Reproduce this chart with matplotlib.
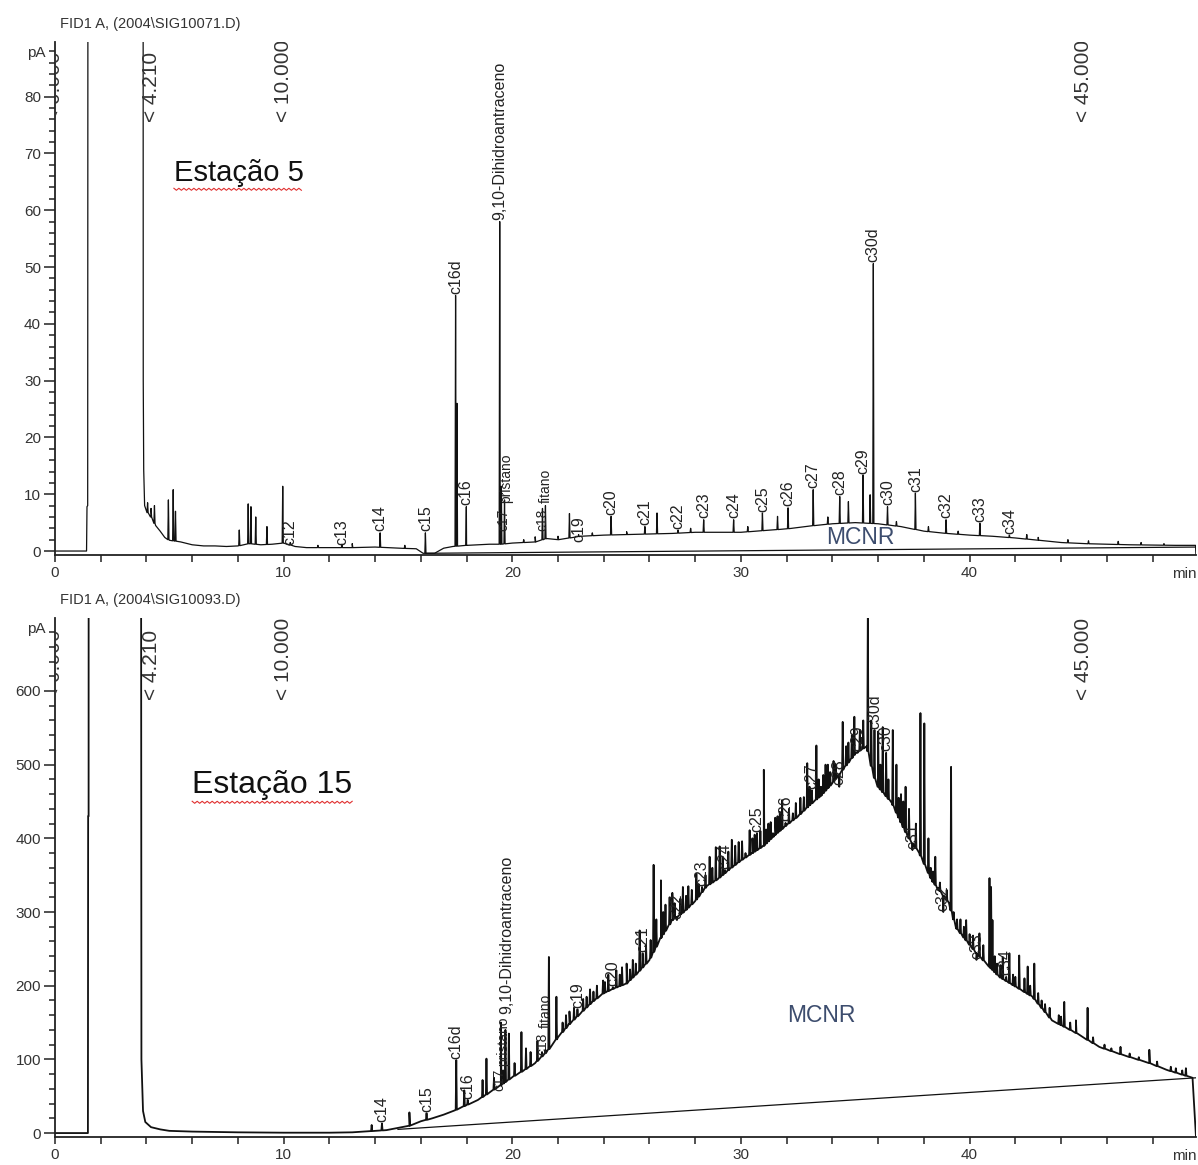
import numpy as np
import matplotlib
matplotlib.use("Agg")
import matplotlib.pyplot as plt
from matplotlib.lines import Line2D
from matplotlib.ticker import MultipleLocator

plt.rcParams["font.family"] = ["Liberation Sans", "DejaVu Sans"]

# ---------------- Estação 5 (top chromatogram) ----------------
top_file = "FID1 A, (2004\\SIG10071.D)"
top_env_x = [0.0, 1.38, 1.40, 1.43, 1.46, 3.84, 3.86, 3.88, 3.92, 4.0, 4.2, 4.4, 4.6,
             4.8, 5.0, 5.5, 6.0, 6.5, 7.0, 7.5, 8.0, 8.5, 9.0, 9.5, 10.0, 10.5, 11.0,
             12.0, 13.0, 14.0, 15.0, 15.8, 16.1, 16.6, 17.0, 17.4, 18.0, 19.0, 19.5,
             20.0, 21.0, 21.5, 22.0, 23.0, 24.0, 25.0, 26.0, 27.0, 28.0, 29.0, 30.0,
             31.0, 32.0, 33.0, 34.0, 35.0, 36.0, 37.0, 38.0, 39.0, 40.0, 41.0, 42.0,
             43.0, 44.0, 45.0, 46.0, 47.0, 48.0, 49.0, 49.88, 49.9]
top_env_y = [0.0, 0.0, 7.8, 8.0, 300, 300, 30, 14.3, 8.0, 7.0, 6.0, 4.5, 3.5,
             2.4, 1.9, 1.6, 1.1, 0.9, 0.9, 0.8, 0.9, 1.3, 1.1, 1.2, 1.4, 0.8, 0.6,
             0.6, 0.6, 0.7, 0.5, 0.4, -0.4, -0.4, 0.5, 0.8, 1.0, 1.2, 1.2,
             1.4, 1.6, 2.2, 2.0, 2.6, 2.8, 2.9, 3.0, 3.1, 3.3, 3.3, 3.3,
             3.6, 3.9, 4.4, 4.8, 5.0, 4.8, 4.3, 3.5, 3.1, 2.8, 2.6, 2.3,
             1.9, 1.5, 1.3, 1.2, 1.1, 1.05, 1.0, 1.0, -0.7]
top_peak_x = [4.05, 4.2, 4.35, 4.96, 5.17, 5.27, 8.06, 8.45, 8.57, 8.78, 9.27, 9.96,
              10.29, 11.5, 12.55, 13.0, 14.22, 15.3, 16.2, 17.52, 17.58, 17.99,
              19.45, 19.52, 19.66, 20.5, 21.0, 21.32, 21.45, 22.0, 22.5, 22.9,
              23.5, 24.32, 25.0, 25.8, 26.33, 27.25, 27.8, 28.37, 29.68, 30.3,
              30.94, 31.6, 32.06, 33.16, 33.8, 34.32, 34.7, 35.34, 35.65, 35.79,
              36.41, 36.8, 37.63, 38.2, 38.97, 39.5, 40.45, 41.74, 42.5, 43.0,
              44.3, 45.2, 46.5, 47.5, 48.5]
top_peak_y = [8.5, 7.5, 8.0, 9.0, 10.8, 7.0, 3.7, 8.3, 7.8, 6.0, 4.3, 11.4,
              1.5, 1.0, 1.2, 1.3, 3.2, 1.0, 3.2, 45.0, 26.0, 7.8,
              58.0, 11.4, 9.0, 2.0, 2.5, 7.5, 8.0, 2.6, 6.6, 2.9,
              3.2, 6.1, 3.4, 4.3, 6.7, 3.7, 4.0, 5.5, 5.5, 4.3,
              6.7, 6.1, 7.6, 10.8, 6.0, 9.6, 8.7, 13.4, 9.9, 50.6,
              7.8, 5.2, 10.2, 4.3, 5.5, 3.5, 4.9, 2.8, 2.9, 2.4,
              2.0, 1.8, 1.7, 1.5, 1.3]
top_lab_name = ["c12", "c13", "c14", "c15", "c16d", "c16", "9,10-Dihidroantraceno",
                "c17", "pristano", "c18", "fitano", "c19", "c20", "c21", "c22", "c23",
                "c24", "c25", "c26", "c27", "c28", "c29", "c30d", "c30", "c31", "c32",
                "c33", "c34"]
top_lab_x = [10.29, 12.55, 14.22, 16.2, 17.52, 17.99, 19.45, 19.62, 19.72, 21.3, 21.47,
             22.9, 24.32, 25.8, 27.25, 28.37, 29.68, 30.94, 32.06, 33.16, 34.32, 35.34,
             35.79, 36.41, 37.63, 38.97, 40.45, 41.74]
top_lab_y = [0.8, 0.8, 3.2, 3.2, 45.0, 7.8, 58.0, 3.2, 8.2, 3.2, 8.2,
             1.4, 6.1, 4.3, 3.7, 5.5, 5.5, 6.7, 7.6, 10.8, 9.6, 13.4,
             50.6, 7.8, 10.2, 5.5, 4.9, 2.8]
top_lab_size = [11.5] * 7 + [10, 10, 10, 10] + [11.5] * 17
top_mcnr_x = [16.2, 49.9]
top_mcnr_y = [-0.4, 0.7]

# ---------------- Estação 15 (bottom chromatogram) ----------------
bot_file = "FID1 A, (2004\\SIG10093.D)"
bot_env_x = [0.0, 1.44, 1.45, 1.47, 1.48, 3.74, 3.78, 3.85, 3.95, 4.2, 4.6, 5.0, 6.0,
             7.0, 8.0, 10.0, 12.0, 13.0, 14.0, 14.5, 15.0, 15.5, 16.0, 16.5, 17.0,
             17.5, 18.0, 18.5, 19.0, 19.5, 20.0, 20.5, 21.0, 21.5, 22.0, 22.5, 23.0,
             23.5, 24.0, 24.5, 25.0, 25.5, 26.0, 26.5, 27.0, 27.5, 28.0, 28.5, 29.0,
             29.5, 30.0, 30.5, 31.0, 31.5, 32.0, 32.5, 33.0, 33.5, 34.0, 34.5, 35.0,
             35.5, 35.8, 36.0, 36.6, 37.3, 37.8, 38.35, 39.1, 39.4, 40.3, 41.3, 42.75,
             43.6, 44.65, 45.67, 46.5, 47.86, 48.6, 49.75, 49.9]
bot_env_y = [0.0, 0.0, 430, 430, 2000, 2000, 100, 30, 15, 8, 5, 3, 2,
             1.5, 1.0, 0.5, 0.5, 1.0, 3.0, 4.0, 7.0, 10, 16, 20, 25,
             31, 38, 45, 55, 65, 76, 85, 95, 110, 130, 148, 163,
             178, 190, 197, 203, 218, 235, 265, 289, 300, 315, 335, 345,
             358, 370, 380, 390, 405, 418, 430, 445, 458, 475, 495, 515,
             525, 485, 470, 448, 402, 380, 343, 312, 279, 244, 212, 185,
             153, 136, 117, 108, 95, 86, 75, -5]
bot_peak_x = [13.85, 14.3, 15.5, 16.25, 17.55, 17.9, 18.05, 18.7, 18.87, 19.2, 19.5,
              19.6, 19.7, 19.85, 20.1, 20.4, 20.6, 20.8, 21.1, 21.3, 21.45, 21.6,
              21.93, 22.2, 22.5, 22.85, 23.1, 23.4, 23.7, 23.97, 24.2, 24.4, 24.55,
              24.8, 25.0, 25.27, 25.57, 25.7, 25.85, 26.18, 26.5, 26.7, 26.88, 27.0,
              27.2, 27.46, 27.7, 28.05, 28.3, 28.63, 28.9, 29.07, 29.3, 29.6, 29.9,
              30.2, 30.38, 30.6, 30.7, 31.0, 31.2, 31.4, 31.6, 31.8, 31.95, 32.27,
              32.6, 32.9, 33.1, 33.3, 33.5, 33.7, 33.9, 34.15, 34.3, 34.45, 34.7,
              34.96, 35.1, 35.2, 35.35, 35.55, 35.7, 35.84, 36.0, 36.2, 36.35, 36.64,
              36.8, 37.0, 37.2, 37.5, 37.85, 38.02, 38.2, 38.5, 38.7, 38.85, 39.0,
              39.19, 39.6, 39.85, 40.0, 40.3, 40.43, 40.87, 40.94, 41.0, 41.2, 41.45,
              41.6, 41.74, 41.9, 42.17, 42.4, 42.54, 42.83, 43.0, 43.3, 43.9, 44.14,
              44.4, 44.65, 45.16, 45.4, 45.9, 46.2, 46.6, 47.0, 47.4, 47.86, 48.2,
              48.8, 49.02, 49.3, 49.46]
bot_peak_y = [11, 13, 28, 27, 99, 58, 45, 72, 101, 75, 150,
              85, 140, 135, 95, 137, 115, 110, 125, 110, 113, 239,
              185, 150, 165, 168, 182, 195, 200, 207, 215, 198, 221,
              225, 230, 235, 275, 244, 255, 364, 343, 310, 320, 326,
              289, 334, 335, 352, 334, 375, 388, 389, 357, 398, 395,
              380, 411, 405, 407, 493, 420, 407, 430, 452, 421, 434,
              455, 502, 465, 526, 470, 500, 490, 500, 470, 558, 530,
              565, 516, 547, 560, 720, 560, 547, 545, 551, 516, 547,
              500, 460, 470, 384, 570, 556, 400, 375, 340, 300, 330,
              497, 290, 289, 270, 235, 271, 346, 334, 289, 230, 239,
              212, 244, 215, 241, 210, 226, 230, 190, 175, 160, 178,
              150, 153, 170, 130, 120, 115, 117, 108, 103, 113, 97,
              90, 88, 85, 88]
# extra small peaks that thicken the unresolved band
bot_minor_x = [22.35, 22.7, 23.25, 23.55, 24.05, 24.7, 25.15, 25.4, 26.05, 26.3,
               26.6, 27.1, 27.35, 27.6, 27.85, 28.15, 28.45, 28.75, 29.2, 29.45,
               29.75, 30.05, 30.5, 30.85, 31.1, 31.3, 31.5, 31.7, 32.1, 32.4,
               32.75, 33.0, 33.4, 33.6, 33.8, 34.05, 34.6, 34.85, 36.1, 36.45,
               36.9, 37.1, 37.35, 37.65, 38.3, 38.4, 38.6, 39.3, 39.45, 39.75,
               40.15, 40.6, 41.1, 41.35, 42.0, 42.65, 43.15, 43.5, 44.0]
bot_minor_y = [160, 170, 185, 192, 205, 215, 222, 230, 262, 290,
               300, 312, 318, 322, 330, 338, 350, 360, 375, 382,
               390, 396, 400, 410, 412, 422, 428, 436, 440, 448,
               456, 470, 480, 486, 500, 505, 525, 540, 500, 480,
               455, 450, 440, 420, 360, 355, 330, 300, 290, 280,
               268, 255, 240, 228, 212, 200, 180, 170, 158]
bot_lab_name = ["c14", "c15", "c16d", "c16", "9,10-Dihidroantraceno", "c17", "pristano",
                "c18", "fitano", "c19", "c20", "c21", "c22", "c23", "c24", "c25", "c26",
                "c27", "c28", "c29", "c30d", "c30", "c31", "c32", "c33", "c34"]
bot_lab_x = [14.3, 16.25, 17.55, 18.05, 19.75, 19.45, 19.6, 21.3, 21.45, 22.85, 24.4,
             25.7, 27.2, 28.3, 29.3, 30.7, 31.95, 33.1, 34.3, 35.1, 35.84, 36.35,
             37.5, 38.85, 40.3, 41.6]
bot_lab_y = [13, 27, 99, 45, 160, 55, 89, 104, 141, 168, 198,
             244, 289, 334, 357, 407, 421, 465, 470, 516, 547, 516,
             384, 300, 235, 212]
bot_lab_size = [11.5] * 5 + [10, 10, 10, 10] + [11.5] * 17
bot_mcnr_x = [15.0, 49.9]
bot_mcnr_y = [5.0, 75.0]

markers_x = [0.0, 4.21, 10.0, 45.0]
markers_txt = ["< 0.000", "< 4.210", "< 10.000", "< 45.000"]


def build_trace(env_x, env_y, pk_x, pk_y, w=0.025):
    env_x = np.asarray(env_x, float)
    env_y = np.asarray(env_y, float)
    pk_x = np.asarray(pk_x, float)
    pk_y = np.asarray(pk_y, float)
    base = np.interp(pk_x, env_x, env_y)
    xs = np.concatenate([env_x, pk_x - w, pk_x, pk_x + w])
    ys = np.concatenate([env_y, base, pk_y, base])
    # keep the envelope order stable, peaks slot in between
    key = np.concatenate([np.zeros(len(env_x)), np.ones(len(pk_x)),
                          np.ones(len(pk_x)) * 2, np.ones(len(pk_x)) * 3])
    order = np.lexsort((key, xs))
    return xs[order], ys[order]


def underline(fig, txt):
    fig.canvas.draw()
    bb = txt.get_window_extent()
    xs = np.arange(bb.x0, bb.x1, 2.5)
    ys = bb.y0 - 1 - 2.0 * (np.arange(len(xs)) % 2)
    fx, fy = fig.transFigure.inverted().transform(np.c_[xs, ys]).T
    fig.add_artist(Line2D(fx, fy, color="#e03030", lw=0.8,
                          transform=fig.transFigure))


def style_axes(ax, ymin, ymax, ymaj, ymin_step, mark_y, header):
    ax.set_xlim(0, 49.9)
    ax.set_ylim(ymin, ymax)
    for s in ("top", "right"):
        ax.spines[s].set_visible(False)
    for s in ("left", "bottom"):
        ax.spines[s].set_linewidth(1.3)
        ax.spines[s].set_color("#222222")
    ax.xaxis.set_major_locator(MultipleLocator(10))
    ax.xaxis.set_minor_locator(MultipleLocator(2))
    ax.yaxis.set_major_locator(MultipleLocator(ymaj))
    ax.yaxis.set_minor_locator(MultipleLocator(ymin_step))
    ax.tick_params(which="both", direction="out", colors="#222222",
                   labelsize=11, labelcolor="#333333", width=1.1)
    ax.tick_params(axis="y", which="major", length=8, pad=2)
    ax.tick_params(axis="y", which="minor", length=4)
    ax.tick_params(axis="x", which="major", length=5, pad=3)
    ax.tick_params(axis="x", which="minor", length=5)
    ax.text(-0.008, 0.978, "pA", transform=ax.transAxes, ha="right", va="center",
            fontsize=11, color="#333333")
    ax.annotate("min", xy=(49.4, 0), xycoords=ax.get_xaxis_transform(),
                xytext=(0, -8.5), textcoords="offset points", ha="center", va="top",
                fontsize=11, color="#333333")
    ax.annotate(header, xy=(0.004, 1.0), xycoords="axes fraction",
                xytext=(0, 8), textcoords="offset points", ha="left", va="bottom",
                fontsize=10.5, color="#333333")
    for mx, mt in zip(markers_x, markers_txt):
        ax.text(mx, mark_y, mt, rotation=90, ha="center", va="bottom",
                fontsize=15, color="#333333", clip_on=True)


fig = plt.figure(figsize=(11.98, 11.65), dpi=100)
ax1 = fig.add_axes([0.0459, 0.5236, 0.9524, 0.4403])
ax2 = fig.add_axes([0.0459, 0.0240, 0.9524, 0.4455])

# top panel
x1, y1 = build_trace(top_env_x, top_env_y, top_peak_x, top_peak_y)
ax1.plot(x1, y1, color="#111111", lw=0.9)
ax1.plot(top_mcnr_x, top_mcnr_y, color="#111111", lw=0.9)
style_axes(ax1, -0.7, 89.6, 10, 2, 75.5, top_file)
for nm, lx, ly, fs in zip(top_lab_name, top_lab_x, top_lab_y, top_lab_size):
    ax1.annotate(nm, xy=(lx, ly), xytext=(0, 1), textcoords="offset points",
                 rotation=90, ha="center", va="bottom", fontsize=fs,
                 color="#222222", annotation_clip=False)
ax1.text(35.2, 2.3, "MCNR", ha="center", va="center", fontsize=16.5, color="#3d4d6e")
t1 = ax1.text(5.2, 66.5, "Estação 5", ha="left", va="center", fontsize=21,
              color="#111111")

# bottom panel
x2, y2 = build_trace(bot_env_x, bot_env_y,
                     bot_peak_x + bot_minor_x, bot_peak_y + bot_minor_y)
ax2.plot(x2, y2, color="#111111", lw=1.3)
ax2.plot(bot_mcnr_x, bot_mcnr_y, color="#111111", lw=0.9)
style_axes(ax2, -5.4, 699, 100, 20, 588, bot_file)
for nm, lx, ly, fs in zip(bot_lab_name, bot_lab_x, bot_lab_y, bot_lab_size):
    ax2.annotate(nm, xy=(lx, ly), xytext=(0, 1), textcoords="offset points",
                 rotation=90, ha="center", va="bottom", fontsize=fs,
                 color="#222222", annotation_clip=False)
ax2.text(33.5, 159, "MCNR", ha="center", va="center", fontsize=16.5, color="#3d4d6e")
t2 = ax2.text(6.0, 472, "Estação 15", ha="left", va="center", fontsize=23,
              color="#111111")

underline(fig, t1)
underline(fig, t2)

fig.savefig("out.png", dpi=100)
